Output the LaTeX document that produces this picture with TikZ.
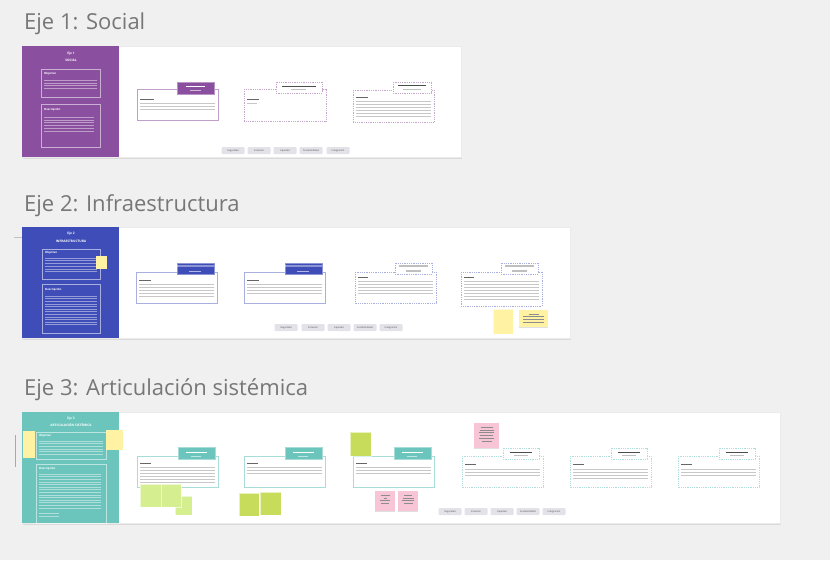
\documentclass[tikz,border=0pt]{standalone}
\usepackage{fontspec}
\setmainfont{Open Sans}
\usetikzlibrary{shadows}

\definecolor{canvas}{HTML}{F0F0F0}
\definecolor{titlegray}{HTML}{777777}
\definecolor{socialc}{HTML}{8A4F9E}
\definecolor{infrac}{HTML}{3F4DB8}
\definecolor{articc}{HTML}{6CC5BC}
\definecolor{stickyy}{HTML}{FFF3A3}
\definecolor{stickyg}{HTML}{D5EE8F}
\definecolor{stickygd}{HTML}{C8DC5C}
\definecolor{stickyp}{HTML}{F8C5D6}
\definecolor{btngray}{HTML}{E2E2E8}

\tikzset{
  axistitle/.style={anchor=base west, inner sep=0pt, text=titlegray, font=\fontsize{22}{26}\selectfont},
  board/.style={fill=white, draw=black!8, drop shadow={fill=black!30, opacity=.35, shadow xshift=1pt, shadow yshift=-2pt}},
  hdtitle/.style={inner sep=0pt, text=white, font=\fontsize{3.2}{3.6}\selectfont\bfseries},
  hdlabel/.style={anchor=west, inner sep=0pt, text=white, font=\fontsize{2.8}{3}\selectfont\bfseries},
  hdbox/.style={draw=white, draw opacity=.55, line width=.6pt},
  hdline/.style={white, opacity=.45, line width=.6pt},
  card/.style={draw=#1, fill=white, line width=.6pt},
  dcard/.style={card=#1, dash pattern=on 1pt off .8pt},
  tab/.style={fill=#1, draw=#1!60, line width=.6pt},
  lbar/.style={black!60, line width=.9pt},
  txtline/.style={black!22, line width=.6pt},
  btn/.style={fill=btngray, rounded corners=1pt, minimum width=23pt, minimum height=7pt, inner sep=0pt, text=black!70, font=\fontsize{2.4}{2.6}\selectfont},
  sticky/.style={fill=#1, draw=white, draw opacity=.6, line width=.3pt},
  sticky shade/.style={fill=#1, drop shadow={fill=black!40, opacity=.3, shadow xshift=0pt, shadow yshift=-1.2pt}},
  stline/.style={black!45, line width=.5pt}
}

\begin{document}
\begin{tikzpicture}[x=1pt, y=-1pt]
\useasboundingbox (0,0) rectangle (830,560);
\fill[canvas] (0,0) rectangle (830,560);

% ---------------- Eje 1 ----------------
\node[axistitle] (t1) at (24,29) {Eje 1: Social};
\draw[board] (22,46) rectangle (461,157);
\fill[socialc] (22,46) rectangle (119,157);
\node[hdtitle] (h1a) at (71,54) {Eje 1};
\node[hdtitle] (h1b) at (71,60) {SOCIAL};
\draw[hdbox] (41,69) rectangle (100,97);
\node[hdlabel] (o1) at (44,74) {Objetivo};
\foreach \k in {0,...,3} \draw[hdline] (44,{80+2.8*\k}) -- ++(53,0);
\draw[hdbox] (41,104) rectangle (100,147);
\node[hdlabel] (d1) at (44,110) {Descripción};
\foreach \k in {0,...,5} \draw[hdline] (44,{117+2.8*\k}) -- ++(50,0);

% cards
\draw[card=socialc!55] (137,89) rectangle ++(81,31);
\draw[tab=socialc] (177,82) rectangle ++(37,12);
\draw[white, line width=.9pt] (186,86) -- ++(19,0);
\draw[white!60!socialc, line width=.9pt] (190,90) -- ++(11,0);
\draw[lbar] (140,99) -- ++(14,0);
\foreach \k in {1,...,3} \draw[txtline] (140,{100+3*\k}) -- ++(75,0);

\draw[dcard=socialc!50] (244,89) rectangle ++(82,32);
\draw[dcard=socialc!50] (276,82) rectangle ++(46,11);
\draw[black!70, line width=.9pt] (282,86) -- ++(34,0);
\draw[black!25, line width=1pt] (291,89.5) -- ++(15,0);
\draw[lbar] (247,99) -- ++(12,0);
\draw[txtline] (247,103) -- ++(10,0);

\draw[dcard=socialc!50] (353,90) rectangle ++(81,32);
\draw[dcard=socialc!50] (393,82) rectangle ++(38,11);
\draw[black!70, line width=.9pt] (398,85.5) -- ++(28,0);
\draw[black!25, line width=1pt] (403,89) -- ++(18,0);
\draw[lbar] (356,97) -- ++(12,0);
\foreach \k in {1,...,6} \draw[txtline] (356,{98+3*\k}) -- ++(75,0);

\foreach \bx/\lab [count=\i] in {221/Seguridad, 247/Inclusión, 273/Equidad, 299/Sostenibilidad, 326/Integración}
  \node[btn] (s1-\i) at ({\bx+12},150.5) {\lab};

% ---------------- Eje 2 ----------------
\node[axistitle] (t2) at (24,211) {Eje 2: Infraestructura};
\draw[black!25, line width=.6pt] (14,237) -- (22,237);
\draw[board] (22,227) rectangle (570,338);
\fill[infrac] (22,227) rectangle (119,338);
\node[hdtitle] (h2a) at (71,234) {Eje 2};
\node[hdtitle] (h2b) at (71,241) {INFRAESTRUCTURA};
\draw[hdbox] (42,249) rectangle (100,279);
\node[hdlabel] (o2) at (45,253) {Objetivo};
\foreach \k in {0,...,5} \draw[hdline] (45,{258+2.7*\k}) -- ++(52,0);
\fill[stickyy] (96,256) rectangle (107,269);
\draw[hdbox] (42,284) rectangle (100,333);
\node[hdlabel] (d2) at (45,290) {Descripción};
\foreach \k in {0,...,11} \draw[hdline] (45,{296+2.6*\k}) -- ++(52,0);

% cards
\foreach \cx/\n in {136/5, 244/4}{
  \draw[card=infrac!45] (\cx,272) rectangle ++(81,31);
  \draw[tab=infrac] ({\cx+41},263) rectangle ++(37,11);
  \draw[white, opacity=.4, line width=1.3pt] ({\cx+41},266) -- ++(37,0);
  \draw[white!60!infrac, line width=.9pt] ({\cx+53},271) -- ++(12,0);
  \draw[lbar] ({\cx+3},280) -- ++(12,0);
  \foreach \k in {1,...,\n} \draw[txtline] ({\cx+3},{281+3*\k}) -- ++(75,0);
}
\foreach \cx/\n/\h in {355/5/31, 461/7/34}{
  \draw[dcard=infrac!45] (\cx,272) rectangle ++(81,\h);
  \draw[dcard=infrac!45] ({\cx+40},263) rectangle ++(37,11);
  \draw[black!25, line width=1.3pt] ({\cx+44},266) -- ++(29,0);
  \draw[black!25, line width=1.1pt] ({\cx+51},271) -- ++(15,0);
  \draw[lbar] ({\cx+3},277) -- ++(10,0);
  \foreach \k in {1,...,\n} \draw[txtline] ({\cx+3},{278+3*\k}) -- ++(75,0);
}

% stickies
\fill[sticky=stickyy] (493,309) rectangle (513,334);
\fill[sticky shade=stickyy] (519,310) rectangle (548,327);
\foreach \k/\w in {0/10, 1/21, 2/21, 3/21} \draw[stline] ({533.5-\w/2},{314+2.6*\k}) -- ++(\w,0);

\foreach \bx/\lab [count=\i] in {274/Seguridad, 301/Inclusión, 327/Equidad, 353/Sostenibilidad, 379/Integración}
  \node[btn] (s2-\i) at ({\bx+12},327.5) {\lab};

% ---------------- Eje 3 ----------------
\node[axistitle] (t3) at (24,395) {Eje 3: Articulación sistémica};
\draw[articc, line width=.6pt] (15,435) -- (15,467);
\draw[board] (22,412) rectangle (780,523);
\fill[articc] (22,412) rectangle (119,523);
\node[hdtitle] (h3a) at (71,419) {Eje 3};
\node[hdtitle] (h3b) at (71,425) {ARTICULACIÓN SISTÉMICA};
\draw[hdbox] (36,432) rectangle (106,459);
\node[hdlabel] (o3) at (39,436) {Objetivo};
\foreach \k in {0,...,5} \draw[hdline] (39,{441+2.6*\k}) -- ++(64,0);
\fill[stickyy] (23,431) rectangle (35,458);
\fill[stickyy] (106,430) rectangle (123,450);
\draw[hdbox] (36,464) rectangle (106,523);
\node[hdlabel] (d3) at (39,469) {Descripción};
\foreach \k in {0,...,13} \draw[hdline] (39,{474+2.6*\k}) -- ++(62,0);
\foreach \k in {0,1} \draw[hdline] (39,{513+3*\k}) -- ++(20,0);

% cards
\foreach \cx/\n in {137/6, 244/3, 353/3}{
  \draw[card=articc!60] (\cx,456) rectangle ++(81,31);
  \draw[tab=articc] ({\cx+41},447) rectangle ++(37,12);
  \draw[white, line width=.9pt] ({\cx+49},452) -- ++(21,0);
  \draw[white!55!articc, line width=.8pt] ({\cx+54},456) -- ++(10,0);
  \draw[lbar] ({\cx+3},463) -- ++(11,0);
  \foreach \k in {1,...,\n} \draw[txtline] ({\cx+3},{464+3*\k}) -- ++(75,0);
}
\foreach \cx/\n in {462/3, 570/4, 678/3}{
  \draw[dcard=articc!55] (\cx,456) rectangle ++(81,31);
  \draw[dcard=articc!55] ({\cx+41},448) rectangle ++(36,11);
  \draw[black!70, line width=.9pt] ({\cx+48},452) -- ++(22,0);
  \draw[black!25, line width=1pt] ({\cx+52},455.5) -- ++(14,0);
  \draw[lbar] ({\cx+3},464) -- ++(11,0);
  \foreach \k in {1,...,\n} \draw[txtline] ({\cx+3},{466+3*\k}) -- ++(75,0);
}

% stickies
\draw[sticky=stickyg] (175,496) rectangle (192,515);
\draw[sticky=stickyg] (140,484) rectangle (161,507);
\draw[sticky=stickyg] (161,484) rectangle (181,507);
\draw[sticky=stickygd] (239,493) rectangle (259,516);
\draw[sticky=stickygd] (260,492) rectangle (281,515);
\draw[sticky=stickygd] (350,432) rectangle (371,456);
\fill[sticky shade=stickyp] (375,491) rectangle (395,511);
\foreach \k/\w in {0/9, 1/3, 2/10, 3/8} \draw[stline] ({385-\w/2},{495+2.8*\k}) -- ++(\w,0);
\fill[sticky shade=stickyp] (398,491) rectangle (418,511);
\foreach \k/\w in {0/8, 1/11, 2/12, 3/9} \draw[stline] ({408-\w/2},{495+2.8*\k}) -- ++(\w,0);
\fill[sticky shade=stickyp] (474,423) rectangle (499,448);
\foreach \k/\w in {0/12, 1/14, 2/15, 3/13, 4/15, 5/10} \draw[stline] ({486.5-\w/2},{427+2.8*\k}) -- ++(\w,0);

\foreach \bx/\lab [count=\i] in {438/Seguridad, 464/Inclusión, 490/Equidad, 516/Sostenibilidad, 542/Integración}
  \node[btn] (s3-\i) at ({\bx+12},511.5) {\lab};
\end{tikzpicture}
\end{document}
